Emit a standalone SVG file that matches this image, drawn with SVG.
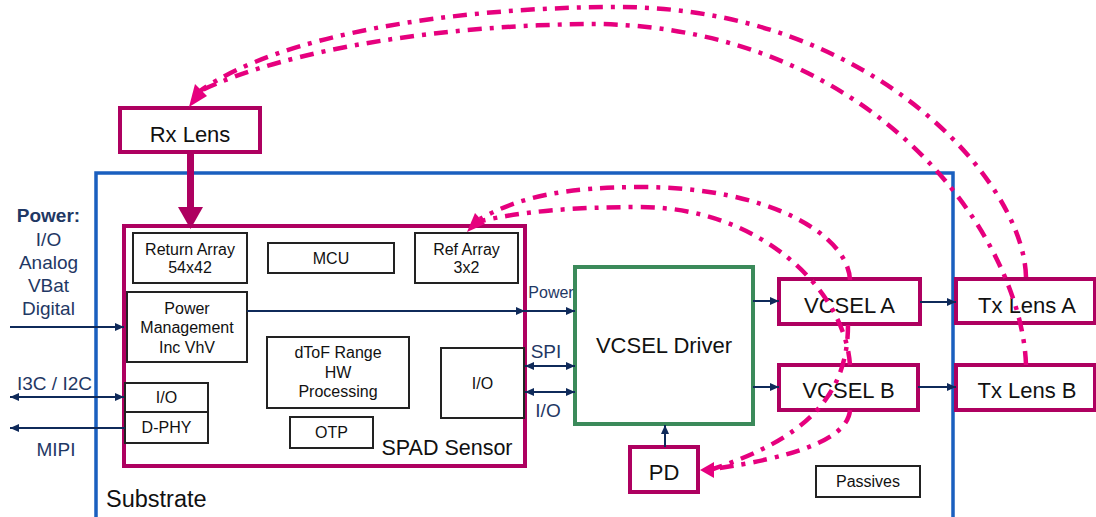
<svg xmlns="http://www.w3.org/2000/svg" width="1096" height="517" viewBox="0 0 1096 517">
  <style>
    .lens { fill: #fff; stroke: #ae0060; stroke-width: 4; }
    .blk { fill: #fff; stroke: #222; stroke-width: 2; }
    .drv { fill: #fff; stroke: #3b8a5a; stroke-width: 4; }
    .sub { fill: none; stroke: #1a5fbf; stroke-width: 3.5; }
    .sig { fill: none; stroke: #0f2a5a; stroke-width: 2; }
    .ray { fill: none; stroke: #e6007e; stroke-width: 4.5; stroke-dasharray: 14 8 4 8; }
    .rayhead { fill: #e6007e; }
    text { font-family: "Liberation Sans", Arial, sans-serif; fill: #111; text-anchor: middle; }
    .t22 { font-size: 22px; }
    .t16 { font-size: 16px; }
    .nav { fill: #1f3864; }
    .lbl { font-size: 19px; }
  </style>
  <defs>
    <marker id="ah" markerUnits="userSpaceOnUse" markerWidth="10" markerHeight="8" refX="9" refY="4" orient="auto-start-reverse">
      <path d="M0,0 L9,4 L0,8 z" fill="#0f2a5a"/>
    </marker>
  </defs>

  <!-- substrate outline, open at the bottom -->
  <g id="substrate">
    <path class="sub" d="M96,520 V173 H953 V520"/>
    <text x="106" y="507" style="text-anchor:start;font-size:23.5px">Substrate</text>
  </g>

  <!-- supply and bus labels on the left -->
  <g id="left-labels">
    <text class="nav lbl" x="48.5" y="222" style="font-weight:bold">Power:</text>
    <text class="nav lbl" x="48.5" y="246">I/O</text>
    <text class="nav lbl" x="48.5" y="269">Analog</text>
    <text class="nav lbl" x="48.5" y="292">VBat</text>
    <text class="nav lbl" x="48.5" y="315">Digital</text>
    <text class="nav lbl" x="17" y="390" style="text-anchor:start">I3C / I2C</text>
    <text class="nav lbl" x="56" y="456">MIPI</text>
  </g>

  <g id="rx-lens">
    <rect class="lens" x="120" y="108" width="140" height="44"/>
    <text class="t22" x="190" y="142">Rx Lens</text>
  </g>

  <g id="spad-sensor">
    <rect class="lens" x="124" y="226" width="401" height="240"/>
    <text x="447" y="455" style="font-size:21.5px">SPAD Sensor</text>
  </g>

  <g id="return-array">
    <rect class="blk" x="133" y="233" width="114" height="50"/>
    <text class="t16" x="190" y="255">Return Array</text>
    <text class="t16" x="190" y="273">54x42</text>
  </g>

  <g id="mcu">
    <rect class="blk" x="268" y="243" width="126" height="30"/>
    <text class="t16" x="331" y="264">MCU</text>
  </g>

  <g id="ref-array">
    <rect class="blk" x="415" y="233" width="103" height="50"/>
    <text class="t16" x="466.5" y="255">Ref Array</text>
    <text class="t16" x="466.5" y="273">3x2</text>
  </g>

  <g id="power-management">
    <rect class="blk" x="127" y="292" width="120" height="70"/>
    <text class="t16" x="187" y="314">Power</text>
    <text class="t16" x="187" y="333">Management</text>
    <text class="t16" x="187" y="353">Inc VhV</text>
  </g>

  <g id="dtof-processing">
    <rect class="blk" x="267" y="337" width="142" height="71"/>
    <text class="t16" x="338" y="358">dToF Range</text>
    <text class="t16" x="338" y="378">HW</text>
    <text class="t16" x="338" y="397">Processing</text>
  </g>

  <g id="otp">
    <rect class="blk" x="290" y="417" width="83" height="31"/>
    <text class="t16" x="331.5" y="438">OTP</text>
  </g>

  <g id="spad-io">
    <rect class="blk" x="441" y="348" width="83" height="70"/>
    <text class="t16" x="482.5" y="389">I/O</text>
  </g>

  <g id="host-io">
    <rect class="blk" x="125" y="383" width="83" height="29"/>
    <text class="t16" x="166.5" y="403">I/O</text>
  </g>

  <g id="d-phy">
    <rect class="blk" x="125" y="412" width="83" height="31"/>
    <text class="t16" x="166.5" y="433">D-PHY</text>
  </g>

  <g id="vcsel-driver">
    <rect class="drv" x="575" y="267" width="178" height="157"/>
    <text class="t22" x="664" y="353">VCSEL Driver</text>
  </g>

  <g id="pd">
    <rect class="lens" x="630" y="447" width="68" height="45"/>
    <text class="t22" x="664" y="480">PD</text>
  </g>

  <g id="vcsel-a">
    <rect class="lens" x="779" y="279" width="141" height="45"/>
    <text class="t22" x="849.5" y="313">VCSEL A</text>
  </g>

  <g id="vcsel-b">
    <rect class="lens" x="779" y="365" width="139" height="45"/>
    <text class="t22" x="848.5" y="398">VCSEL B</text>
  </g>

  <g id="tx-lens-a">
    <rect class="lens" x="956" y="279" width="139" height="44"/>
    <text class="t22" x="1027" y="313">Tx Lens A</text>
  </g>

  <g id="tx-lens-b">
    <rect class="lens" x="956" y="365" width="139" height="45"/>
    <text class="t22" x="1027" y="398">Tx Lens B</text>
  </g>

  <g id="passives">
    <rect class="blk" x="816" y="466" width="104" height="31"/>
    <text class="t16" x="868" y="487">Passives</text>
  </g>

  <!-- electrical connections and optical paths -->
  <g id="connectors">
    <!-- power in -->
    <line class="sig" x1="10" y1="327" x2="124" y2="327" marker-end="url(#ah)"/>
    <!-- I3C / I2C bus -->
    <line class="sig" x1="10" y1="397" x2="124" y2="397" marker-start="url(#ah)" marker-end="url(#ah)"/>
    <!-- MIPI out -->
    <line class="sig" x1="125" y1="428" x2="10" y2="428" marker-end="url(#ah)"/>

    <!-- power to the driver -->
    <line class="sig" x1="247" y1="311" x2="575" y2="311" marker-end="url(#ah)"/>
    <path d="M516,307 L525,311 L516,315 z" fill="#0f2a5a"/>
    <text class="nav" x="551" y="298" style="font-size:16px">Power</text>
    <!-- SPI and I/O -->
    <line class="sig" x1="525" y1="366" x2="575" y2="366" marker-start="url(#ah)" marker-end="url(#ah)"/>
    <text class="nav" x="546" y="358" style="font-size:19px">SPI</text>
    <line class="sig" x1="525" y1="392" x2="575" y2="392" marker-start="url(#ah)" marker-end="url(#ah)"/>
    <text class="nav" x="548" y="417" style="font-size:19px">I/O</text>

    <!-- driver to emitters -->
    <line class="sig" x1="753" y1="301" x2="779" y2="301" marker-end="url(#ah)"/>
    <line class="sig" x1="753" y1="387" x2="779" y2="387" marker-end="url(#ah)"/>
    <!-- emitters to lenses -->
    <line class="sig" x1="920" y1="302" x2="956" y2="302" marker-end="url(#ah)"/>
    <line class="sig" x1="918" y1="387" x2="956" y2="387" marker-end="url(#ah)"/>
    <!-- photodiode feedback -->
    <line class="sig" x1="665" y1="447" x2="665" y2="425" marker-end="url(#ah)"/>

    <!-- returned light onto the return array -->
    <line x1="190.5" y1="152" x2="190.5" y2="210" stroke="#ae0060" stroke-width="7"/>
    <path d="M178,207 L203,207 L190.5,229 z" fill="#ae0060"/>

    <!-- outgoing light looping back to the receiver -->
    <path class="ray" d="M1026,277 C1024,180 870,8 620,7 C450,7 280,35 200,91"/>
    <path class="ray" d="M1026,365 C1022,240 880,30 600,24 C450,24 290,48 200,91"/>
    <path class="rayhead" d="M189,107 L207,96 L195,84 z"/>

    <!-- reference light onto the ref array -->
    <path class="ray" d="M850,280 C848,235 770,187 640,187 C570,187 520,196 480,219"/>
    <path class="ray" d="M850,365 C845,290 760,207 640,207 C570,207 520,212 481,221"/>
    <path class="rayhead" d="M467,232 L485,224 L475,213 z"/>

    <!-- light onto the photodiode -->
    <path class="ray" d="M850,410 C848,440 790,458 713,469"/>
    <path class="ray" d="M848,325 C848,400 800,440 713,469"/>
    <path class="rayhead" d="M700,470 L714,462 L714,478 z"/>
  </g>
</svg>
